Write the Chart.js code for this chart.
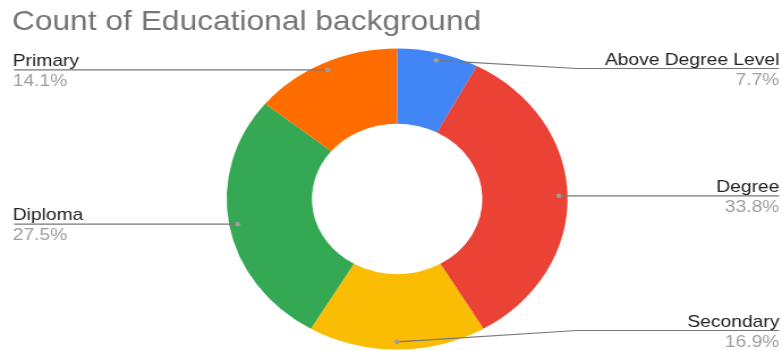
<!DOCTYPE html>
<html>
<head>
<meta charset="utf-8">
<script src="https://cdn.jsdelivr.net/npm/chart.js@4/dist/chart.umd.min.js"></script>
<style>
  html, body { margin: 0; padding: 0; background: #fff; overflow: hidden; }
  #wrap { width: 690px; height: 351px; transform: scaleX(1.1333); transform-origin: 0 0; }
</style>
</head>
<body>
<div id="wrap"><canvas id="c"></canvas></div>
<script>
const titleText = 'Count of Educational background';
const categories = ['Above Degree Level', 'Degree', 'Secondary', 'Diploma', 'Primary'];
const counts = [11, 48, 24, 39, 20];
const colors = ['#4285F4', '#EA4335', '#FBBC04', '#34A853', '#FF6D01'];

const FONT = '"Liberation Sans", Arial, sans-serif';
const total = counts.reduce((a, b) => a + b, 0);

const labelPlugin = {
  id: 'labelPlugin',
  afterDraw(chart) {
    const ctx = chart.ctx;
    const W = chart.width;
    ctx.save();
    // title
    ctx.font = '28px ' + FONT;
    ctx.fillStyle = '#757575';
    ctx.textAlign = 'left';
    ctx.textBaseline = 'alphabetic';
    ctx.fillText(titleText, 10.5, 29.5);

    const meta = chart.getDatasetMeta(0);
    meta.data.forEach((arc, i) => {
      const p = arc.getProps(['x', 'y', 'startAngle', 'endAngle', 'outerRadius'], true);
      const mid = (p.startAngle + p.endAngle) / 2;
      const px = p.x + Math.cos(mid) * p.outerRadius * 0.95;
      const py = p.y + Math.sin(mid) * p.outerRadius * 0.95;
      const lineY = Math.min(Math.max(py, 68.5), 330.5);
      const left = px < p.x;
      const edge = left ? 12.4 : W - 2.5;
      const bend = left ? 190 : 509;
      ctx.strokeStyle = '#777777';
      ctx.lineWidth = 1.1;
      ctx.beginPath();
      ctx.moveTo(edge, lineY);
      ctx.lineTo(bend, lineY);
      ctx.lineTo(px, py);
      ctx.stroke();
      ctx.fillStyle = '#9e9e9e';
      ctx.beginPath();
      ctx.arc(px, py, 2.3, 0, Math.PI * 2);
      ctx.fill();

      ctx.font = '17px ' + FONT;
      ctx.textAlign = left ? 'left' : 'right';
      const tx = left ? 11.2 : W - 2.3;
      ctx.fillStyle = '#222222';
      ctx.fillText(categories[i], tx, lineY - 4);
      ctx.fillStyle = '#9e9e9e';
      ctx.fillText((counts[i] / total * 100).toFixed(1) + '%', tx, lineY + 16);
    });
    ctx.restore();
  }
};

new Chart(document.getElementById('c'), {
  type: 'doughnut',
  data: {
    labels: categories,
    datasets: [{
      data: counts,
      backgroundColor: colors,
      borderWidth: 0,
      hoverOffset: 0
    }]
  },
  options: {
    responsive: true,
    maintainAspectRatio: false,
    animation: false,
    cutout: '50%',
    layout: { padding: { top: 48.5, bottom: 1.5, left: 200, right: 189.2 } },
    plugins: {
      legend: { display: false },
      tooltip: { enabled: false },
      title: { display: false }
    },
    events: []
  },
  plugins: [labelPlugin]
});
</script>
</body>
</html>
